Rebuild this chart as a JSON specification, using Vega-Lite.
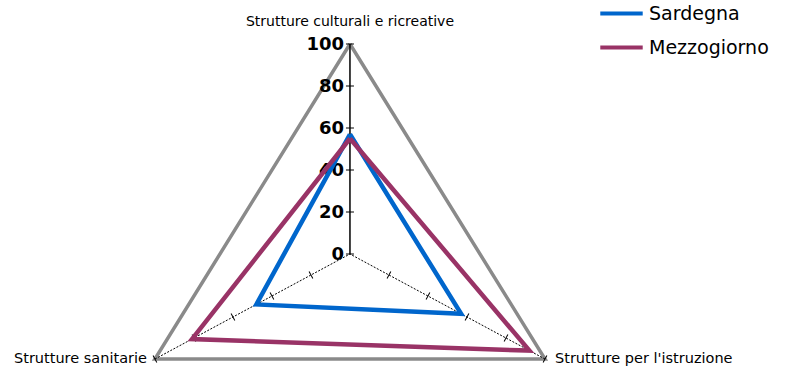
{
  "$schema": "https://vega.github.io/schema/vega-lite/v6.json",
  "width": 790,
  "height": 367,
  "autosize": {"type": "none"},
  "padding": 0,
  "background": "white",
  "config": {"view": {"stroke": null}},
  "datasets": {
    "series": [
      {"series": "Sardegna", "idx": 0, "value": 57, "ord": 0},
      {"series": "Sardegna", "idx": 1, "value": 57, "ord": 1},
      {"series": "Sardegna", "idx": 2, "value": 48, "ord": 2},
      {"series": "Sardegna", "idx": 0, "value": 57, "ord": 3},
      {"series": "Mezzogiorno", "idx": 0, "value": 55, "ord": 0},
      {"series": "Mezzogiorno", "idx": 1, "value": 92, "ord": 1},
      {"series": "Mezzogiorno", "idx": 2, "value": 81, "ord": 2},
      {"series": "Mezzogiorno", "idx": 0, "value": 55, "ord": 3}
    ],
    "grid": [
      {"idx": 0, "value": 100, "ord": 0},
      {"idx": 1, "value": 100, "ord": 1},
      {"idx": 2, "value": 100, "ord": 2},
      {"idx": 0, "value": 100, "ord": 3}
    ],
    "axes": [
      {"idx": 0, "axis": "Strutture culturali e ricreative", "value": 100},
      {"idx": 1, "axis": "Strutture per l'istruzione", "value": 100},
      {"idx": 2, "axis": "Strutture sanitarie", "value": 100}
    ],
    "ticks": [
      {"idx": 0, "value": 0}, {"idx": 0, "value": 20}, {"idx": 0, "value": 40},
      {"idx": 0, "value": 60}, {"idx": 0, "value": 80}, {"idx": 0, "value": 100},
      {"idx": 1, "value": 20}, {"idx": 1, "value": 40}, {"idx": 1, "value": 60},
      {"idx": 1, "value": 80}, {"idx": 1, "value": 100},
      {"idx": 2, "value": 20}, {"idx": 2, "value": 40}, {"idx": 2, "value": 60},
      {"idx": 2, "value": 80}, {"idx": 2, "value": 100}
    ]
  },
  "layer": [
    {
      "data": {"name": "grid"},
      "transform": [
        {"calculate": "PI/2 - datum.idx*2*PI/3", "as": "theta"},
        {"calculate": "datum.value*cos(datum.theta)", "as": "x"},
        {"calculate": "datum.value*sin(datum.theta)", "as": "y"}
      ],
      "mark": {"type": "line", "color": "#8a8a8a", "strokeWidth": 3.5, "strokeJoin": "miter"},
      "encoding": {
        "x": {"field": "x", "type": "quantitative", "scale": {"domain": [-155.4, 195.4], "nice": false, "zero": false}, "axis": null},
        "y": {"field": "y", "type": "quantitative", "scale": {"domain": [-53.8, 120.95], "nice": false, "zero": false}, "axis": null},
        "order": {"field": "ord"}
      }
    },
    {
      "data": {"name": "axes"},
      "transform": [
        {"filter": "datum.idx == 0"},
        {"calculate": "PI/2 - datum.idx*2*PI/3", "as": "theta"},
        {"calculate": "datum.value*cos(datum.theta)", "as": "x"},
        {"calculate": "datum.value*sin(datum.theta)", "as": "y"}
      ],
      "mark": {"type": "rule", "color": "black", "strokeWidth": 1.5},
      "encoding": {
        "x": {"field": "x", "type": "quantitative"},
        "y": {"field": "y", "type": "quantitative"},
        "x2": {"datum": 0},
        "y2": {"datum": 0}
      }
    },
    {
      "data": {"name": "axes"},
      "transform": [
        {"filter": "datum.idx > 0"},
        {"calculate": "PI/2 - datum.idx*2*PI/3", "as": "theta"},
        {"calculate": "datum.value*cos(datum.theta)", "as": "x"},
        {"calculate": "datum.value*sin(datum.theta)", "as": "y"}
      ],
      "mark": {"type": "rule", "color": "black", "strokeWidth": 1, "strokeDash": [2, 1.5]},
      "encoding": {
        "x": {"field": "x", "type": "quantitative"},
        "y": {"field": "y", "type": "quantitative"},
        "x2": {"datum": 0},
        "y2": {"datum": 0}
      }
    },
    {
      "data": {"name": "ticks"},
      "transform": [
        {"calculate": "PI/2 - datum.idx*2*PI/3", "as": "theta"},
        {"calculate": "datum.value*cos(datum.theta)", "as": "x"},
        {"calculate": "datum.value*sin(datum.theta)", "as": "y"},
        {"calculate": "datum.idx == 0 ? 0 : (datum.idx == 1 ? 118 : 62)", "as": "rot"}
      ],
      "mark": {"type": "point", "shape": "M-1,0L1,0", "filled": false, "stroke": "black", "strokeWidth": 1, "size": 64, "opacity": 1},
      "encoding": {
        "x": {"field": "x", "type": "quantitative"},
        "y": {"field": "y", "type": "quantitative"},
        "angle": {"field": "rot", "type": "quantitative", "scale": null}
      }
    },
    {
      "data": {"name": "ticks"},
      "transform": [
        {"filter": "datum.idx == 0"},
        {"calculate": "datum.value", "as": "y"}
      ],
      "mark": {"type": "text", "align": "right", "baseline": "middle", "dx": -6, "dy": 1, "font": "DejaVu Sans", "fontSize": 18, "fontWeight": "bold", "color": "black"},
      "encoding": {
        "x": {"datum": 0},
        "y": {"field": "y", "type": "quantitative"},
        "text": {"field": "value", "type": "quantitative"}
      }
    },
    {
      "data": {"name": "axes"},
      "transform": [
        {"filter": "datum.idx == 0"},
        {"calculate": "PI/2 - datum.idx*2*PI/3", "as": "theta"},
        {"calculate": "datum.value*cos(datum.theta)", "as": "x"},
        {"calculate": "datum.value*sin(datum.theta)", "as": "y"}
      ],
      "mark": {"type": "text", "align": "center", "baseline": "bottom", "dy": -15, "font": "DejaVu Sans", "fontSize": 14, "color": "black"},
      "encoding": {
        "x": {"field": "x", "type": "quantitative"},
        "y": {"field": "y", "type": "quantitative"},
        "text": {"field": "axis"}
      }
    },
    {
      "data": {"name": "axes"},
      "transform": [
        {"filter": "datum.idx == 1"},
        {"calculate": "PI/2 - datum.idx*2*PI/3", "as": "theta"},
        {"calculate": "datum.value*cos(datum.theta)", "as": "x"},
        {"calculate": "datum.value*sin(datum.theta)", "as": "y"}
      ],
      "mark": {"type": "text", "align": "left", "baseline": "middle", "dx": 10, "dy": 0, "font": "DejaVu Sans", "fontSize": 14.5, "color": "black"},
      "encoding": {
        "x": {"field": "x", "type": "quantitative"},
        "y": {"field": "y", "type": "quantitative"},
        "text": {"field": "axis"}
      }
    },
    {
      "data": {"name": "axes"},
      "transform": [
        {"filter": "datum.idx == 2"},
        {"calculate": "PI/2 - datum.idx*2*PI/3", "as": "theta"},
        {"calculate": "datum.value*cos(datum.theta)", "as": "x"},
        {"calculate": "datum.value*sin(datum.theta)", "as": "y"}
      ],
      "mark": {"type": "text", "align": "right", "baseline": "middle", "dx": -8, "dy": 0, "font": "DejaVu Sans", "fontSize": 14.5, "color": "black"},
      "encoding": {
        "x": {"field": "x", "type": "quantitative"},
        "y": {"field": "y", "type": "quantitative"},
        "text": {"field": "axis"}
      }
    },
    {
      "data": {"name": "series"},
      "transform": [
        {"calculate": "PI/2 - datum.idx*2*PI/3", "as": "theta"},
        {"calculate": "datum.value*cos(datum.theta)", "as": "x"},
        {"calculate": "datum.value*sin(datum.theta)", "as": "y"}
      ],
      "mark": {"type": "line", "strokeWidth": 4.5, "strokeJoin": "miter"},
      "encoding": {
        "x": {"field": "x", "type": "quantitative"},
        "y": {"field": "y", "type": "quantitative"},
        "order": {"field": "ord"},
        "color": {
          "field": "series",
          "type": "nominal",
          "scale": {"domain": ["Sardegna", "Mezzogiorno"], "range": ["#0066cc", "#993366"]},
          "legend": {
            "orient": "none",
            "legendX": 598,
            "legendY": -10,
            "title": null,
            "symbolType": "stroke",
            "symbolSize": 1800,
            "symbolStrokeWidth": 4,
            "labelFont": "DejaVu Sans",
            "labelFontSize": 19,
            "labelColor": "black",
            "rowPadding": 0
          }
        }
      }
    }
  ]
}
